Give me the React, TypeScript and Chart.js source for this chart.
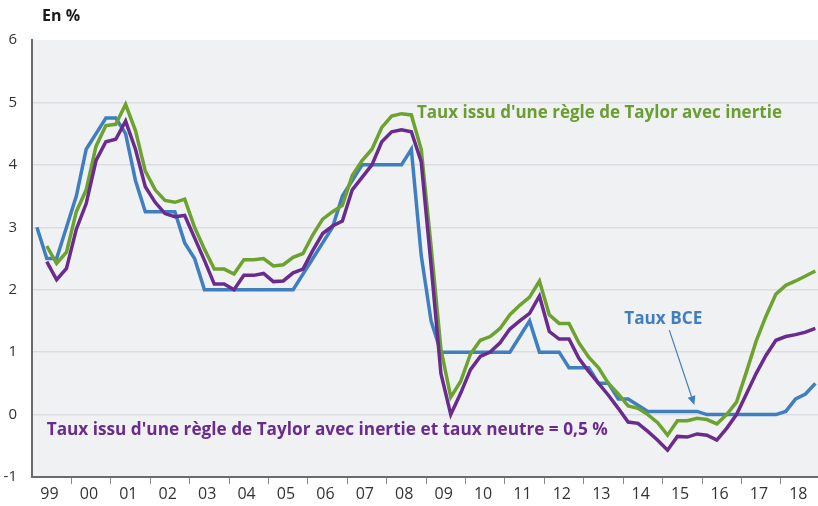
import React, { useEffect, useRef } from 'react';
import { Chart, registerables } from 'chart.js';

Chart.register(...registerables);

// ---- Data (quarterly, 1999 T1 .. 2018 T4) ----
const years = ['99', '00', '01', '02', '03', '04', '05', '06', '07', '08', '09', '10', '11', '12', '13', '14', '15', '16', '17', '18'];
const quarters = years.flatMap((yr) => ['T1', 'T2', 'T3', 'T4'].map((q) => `${yr} ${q}`));

const tauxBCE = [
  3.0, 2.5, 2.5, 3.0,
  3.5, 4.25, 4.5, 4.75,
  4.75, 4.5, 3.75, 3.25,
  3.25, 3.25, 3.25, 2.75,
  2.5, 2.0, 2.0, 2.0,
  2.0, 2.0, 2.0, 2.0,
  2.0, 2.0, 2.0, 2.25,
  2.5, 2.75, 3.0, 3.5,
  3.75, 4.0, 4.0, 4.0,
  4.0, 4.0, 4.25, 2.55,
  1.5, 1.0, 1.0, 1.0,
  1.0, 1.0, 1.0, 1.0,
  1.0, 1.25, 1.5, 1.0,
  1.0, 1.0, 0.75, 0.75,
  0.75, 0.5, 0.5, 0.25,
  0.25, 0.15, 0.05, 0.05,
  0.05, 0.05, 0.05, 0.05,
  0.0, 0.0, 0.0, 0.0,
  0.0, 0.0, 0.0, 0.0,
  0.05, 0.25, 0.33, 0.5,
];

const taylorInertie = [
  null, 2.7, 2.42, 2.6,
  3.25, 3.6, 4.3, 4.63,
  4.65, 4.97, 4.55, 3.9,
  3.6, 3.43, 3.4, 3.45,
  3.0, 2.65, 2.33, 2.33,
  2.25, 2.48, 2.48, 2.5,
  2.38, 2.4, 2.52, 2.58,
  2.88, 3.13, 3.25, 3.35,
  3.83, 4.07, 4.25, 4.6,
  4.78, 4.82, 4.8, 4.25,
  2.7, 1.05, 0.28, 0.53,
  0.97, 1.19, 1.25, 1.38,
  1.6, 1.75, 1.88, 2.14,
  1.6, 1.46, 1.46, 1.15,
  0.92, 0.75, 0.5, 0.33,
  0.14, 0.1, 0.0, -0.13,
  -0.33, -0.1, -0.1, -0.06,
  -0.08, -0.15, 0.0, 0.2,
  0.68, 1.18, 1.58, 1.93,
  2.07, 2.14, 2.22, 2.3,
];

const taylorNeutre = [
  null, 2.45, 2.16, 2.34,
  2.97, 3.38, 4.07, 4.37,
  4.41, 4.7, 4.25, 3.65,
  3.4, 3.22, 3.17, 3.19,
  2.83, 2.47, 2.09, 2.09,
  2.0, 2.23, 2.23, 2.26,
  2.13, 2.14, 2.27, 2.33,
  2.63, 2.9, 3.02, 3.1,
  3.6, 3.8, 4.0, 4.37,
  4.53, 4.56, 4.53, 4.05,
  2.4, 0.66, 0.0, 0.34,
  0.72, 0.93, 1.0, 1.15,
  1.37, 1.5, 1.62, 1.9,
  1.33, 1.21, 1.21, 0.9,
  0.69, 0.5, 0.31, 0.1,
  -0.12, -0.14, -0.27, -0.41,
  -0.57, -0.35, -0.36, -0.31,
  -0.33, -0.41, -0.22, 0.0,
  0.33, 0.66, 0.95, 1.19,
  1.25, 1.28, 1.32, 1.38,
];

const yMin = -1;
const yMax = 6;

// ---- Styles ----
const BLUE = '#3f7fbf';
const GREEN = '#6ca22e';
const PURPLE = '#6a2b8e';
const FONT = '"Open Sans", "Noto Sans", sans-serif';

// Annotation anchors in data units (quarter index, %)
const annotations = [
  { text: "Taux issu d'une règle de Taylor avec inertie", q: 39.07, v: 4.746, width: 365, color: '#6a9e30' },
  { text: "Taux issu d'une règle de Taylor avec inertie et taux neutre = 0,5 %", q: 1.49, v: -0.328, width: 561, color: '#6a2b8e' },
  { text: 'Taux BCE', q: 60.11, v: 1.449, width: 78, color: '#3f7fbf' },
];
const arrow = { from: { q: 64.68, v: 1.353 }, to: { q: 67.22, v: 0.152 }, color: '#3f7fbf' };

const toPoints = (arr: (number | null)[]) => arr.map((v, i) => ({ x: i + 0.5, y: v }));

const bgPlugin = {
  id: 'plotBg',
  beforeDraw(chart: any) {
    const { ctx, chartArea } = chart;
    ctx.save();
    ctx.fillStyle = '#f0f1f3';
    ctx.fillRect(chartArea.left, chartArea.top, chartArea.right - chartArea.left, chartArea.bottom - chartArea.top);
    ctx.restore();
  },
};

function drawFitted(ctx: CanvasRenderingContext2D, text: string, x: number, y: number, width: number, size: number, color: string) {
  ctx.save();
  ctx.font = `bold ${size}px ${FONT}`;
  const w = ctx.measureText(text).width;
  ctx.translate(x, y);
  ctx.scale(width / w, 1);
  ctx.fillStyle = color;
  ctx.textAlign = 'left';
  ctx.textBaseline = 'alphabetic';
  ctx.fillText(text, 0, 0);
  ctx.restore();
}

const annotationPlugin = {
  id: 'annots',
  afterDraw(chart: any) {
    const { ctx } = chart;
    const xs = chart.scales.x;
    const ys = chart.scales.y;
    for (const a of annotations) {
      drawFitted(ctx, a.text, xs.getPixelForValue(a.q), ys.getPixelForValue(a.v), a.width, 18, a.color);
    }
    // arrow
    const x1 = xs.getPixelForValue(arrow.from.q);
    const y1 = ys.getPixelForValue(arrow.from.v);
    const x2 = xs.getPixelForValue(arrow.to.q);
    const y2 = ys.getPixelForValue(arrow.to.v);
    const ang = Math.atan2(y2 - y1, x2 - x1);
    const head = 9;
    const half = 4;
    const bx = x2 - head * Math.cos(ang);
    const by = y2 - head * Math.sin(ang);
    ctx.save();
    ctx.strokeStyle = arrow.color;
    ctx.fillStyle = arrow.color;
    ctx.lineWidth = 1.2;
    ctx.beginPath();
    ctx.moveTo(x1, y1);
    ctx.lineTo(bx, by);
    ctx.stroke();
    ctx.beginPath();
    ctx.moveTo(x2, y2);
    ctx.lineTo(bx + half * Math.sin(ang), by - half * Math.cos(ang));
    ctx.lineTo(bx - half * Math.sin(ang), by + half * Math.cos(ang));
    ctx.closePath();
    ctx.fill();
    // unit label
    ctx.font = `bold 16px ${FONT}`;
    ctx.fillStyle = '#1a1a1a';
    ctx.textAlign = 'left';
    ctx.textBaseline = 'alphabetic';
    ctx.fillText('En %', 42, 21);
    ctx.restore();
  },
};

export default function App() {
  const ref = useRef<HTMLCanvasElement | null>(null);

  useEffect(() => {
    if (!ref.current) return;
    const chart = new Chart(ref.current, {
      type: 'line',
      data: {
        labels: quarters,
        datasets: [
          {
            label: "Taux issu d'une règle de Taylor avec inertie et taux neutre = 0,5 %",
            data: toPoints(taylorNeutre) as any,
            borderColor: PURPLE,
            borderWidth: 3.5,
            pointRadius: 0,
            tension: 0,
            order: 0,
          },
          {
            label: "Taux issu d'une règle de Taylor avec inertie",
            data: toPoints(taylorInertie) as any,
            borderColor: GREEN,
            borderWidth: 3.5,
            pointRadius: 0,
            tension: 0,
            order: 1,
          },
          {
            label: 'Taux BCE',
            data: toPoints(tauxBCE) as any,
            borderColor: BLUE,
            borderWidth: 3.5,
            pointRadius: 0,
            tension: 0,
            order: 2,
          },
        ],
      },
      options: {
        responsive: false,
        animation: false,
        devicePixelRatio: 1,
        layout: { padding: { top: 40, right: 0, bottom: 0, left: 0 } },
        plugins: { legend: { display: false }, tooltip: { enabled: false }, title: { display: false } },
        scales: {
          x: {
            type: 'linear',
            min: 0,
            max: 79.77,
            afterBuildTicks: (axis: any) => {
              axis.ticks = years.map((_, i) => ({ value: i * 4 }));
            },
            afterFit: (scale: any) => {
              scale.height = 29;
            },
            grid: {
              drawOnChartArea: false,
              drawTicks: true,
              tickLength: 7,
              tickWidth: 1,
              tickColor: (c: any) => (c.index === 0 ? 'rgba(0,0,0,0)' : '#8a8a8a'),
            },
            border: { display: true, color: '#6b6b6b', width: 2 },
            ticks: {
              autoSkip: false,
              maxRotation: 0,
              minRotation: 0,
              padding: 1,
              labelOffset: 17.5,
              color: '#333333',
              font: { family: FONT, size: 16 },
              callback: (_v: any, i: number) => years[i],
            },
          },
          y: {
            min: yMin,
            max: yMax,
            afterFit: (scale: any) => {
              scale.width = 32;
            },
            grid: {
              drawTicks: false,
              lineWidth: 1.5,
              color: (c: any) => (c.tick && (c.tick.value === yMax || c.tick.value === yMin) ? 'rgba(0,0,0,0)' : '#dcdde0'),
            },
            border: { display: true, color: '#6b6b6b', width: 2 },
            ticks: {
              stepSize: 1,
              padding: 15,
              color: '#333333',
              font: { family: FONT, size: 15 },
            },
          },
        },
      },
      plugins: [bgPlugin, annotationPlugin],
    });
    return () => chart.destroy();
  }, []);

  return (
    <div style={{ position: 'fixed', left: 0, top: 0, width: 818, height: 506, background: '#ffffff' }}>
      <canvas ref={ref} width={818} height={506} />
    </div>
  );
}
